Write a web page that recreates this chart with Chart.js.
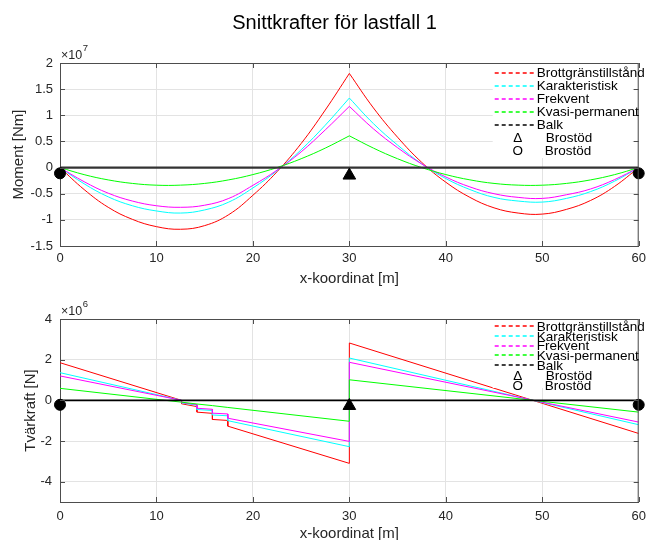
<!DOCTYPE html>
<html>
<head>
<meta charset="utf-8">
<title>Snittkrafter för lastfall 1</title>
<script src="https://cdn.jsdelivr.net/npm/chart.js@4.4.0/dist/chart.umd.min.js"></script>
<style>
    html, body { margin: 0; padding: 0; background: #fff; width: 647px; height: 540px; overflow: hidden; }
    #momentWrap { position: absolute; left: 0; top: 0; width: 647px; height: 290px; }
    #shearWrap { position: absolute; left: 0; top: 290px; width: 647px; height: 260px; }
</style>
</head>
<body>
<div id="momentWrap"><canvas id="momentChart"></canvas></div>
<div id="shearWrap"><canvas id="shearChart"></canvas></div>
<script>
const fontFamily = '"Liberation Sans", Arial, Helvetica, sans-serif';
const axisColor = '#262626';
const frameColor = '#4d4d4d';
const gridColor = '#e3e3e3';

// Legend texts and colours
const seriesNames = ['Brottgränstillstånd', 'Karakteristisk', 'Frekvent', 'Kvasi-permanent'];
const seriesColors = ['#ff0000', '#00ffff', '#ff00ff', '#00ff00'];
const balkName = 'Balk';
const supportSymbols = ['Δ', 'O'];
const supportName = 'Brostöd';

// x ticks
const xTicks = [0, 10, 20, 30, 40, 50, 60];

// Moment [Nm], in units of 10^7 (span 1: 0-30 m, span 2: 30-60 m)
const momentX = [0, 2.5, 5, 7.5, 10, 12.5, 15, 17.5, 20, 22.5, 25, 27.5, 30,
                 32.5, 35, 37.5, 40, 42.5, 45, 47.5, 50, 52.5, 55, 57.5, 60];
const momentBrott = [0, -0.42, -0.76, -0.99, -1.13, -1.18, -1.11, -0.90, -0.53, -0.08, 0.46, 1.10, 1.80,
                     1.14, 0.58, 0.10, -0.28, -0.57, -0.77, -0.87, -0.89, -0.80, -0.63, -0.36, 0];
const momentKarakt = [0, -0.31, -0.56, -0.73, -0.83, -0.87, -0.81, -0.66, -0.39, -0.06, 0.34, 0.81, 1.33,
                      0.84, 0.43, 0.07, -0.21, -0.42, -0.57, -0.64, -0.66, -0.59, -0.46, -0.26, 0];
const momentFrekvent = [0, -0.27, -0.49, -0.64, -0.73, -0.76, -0.72, -0.59, -0.34, -0.05, 0.30, 0.72, 1.17,
                        0.74, 0.38, 0.07, -0.18, -0.37, -0.50, -0.57, -0.59, -0.52, -0.41, -0.23, 0];
const momentKvasi = [0, -0.135, -0.236, -0.303, -0.337, -0.336, -0.303, -0.235, -0.134, 0.0, 0.169, 0.372, 0.607,
                     0.372, 0.169, 0.0, -0.134, -0.235, -0.303, -0.336, -0.337, -0.303, -0.236, -0.135, 0];

// Tvärkraft [N], in units of 10^6
const shearX = [0, 12.6, 12.6, 14.2, 14.2, 15.8, 15.8, 17.4, 17.4, 30, 30, 60];
const shearBrott = [1.85, 0.0, -0.17, -0.31, -0.58, -0.64, -0.94, -0.99, -1.27, -3.1, 2.82, -1.63];
const shearKarakt = [1.36, 0.0, -0.13, -0.24, -0.45, -0.50, -0.72, -0.76, -1.0, -2.28, 2.08, -1.2];
const shearFrekvent = [1.2, 0.0, -0.11, -0.21, -0.39, -0.44, -0.63, -0.67, -0.88, -2.02, 1.87, -1.07];
const shearKvasi = [0.59, -0.09, -0.09, -0.18, -0.18, -0.26, -0.26, -0.35, -0.35, -1.03, 1.01, -0.58];

// Beam and supports
const balkX = [0, 60];
const balkY = [0, 0];
const endSupportX = [0, 60];
const midSupportX = [30];
const momentEndSupportY = [-0.11, -0.11];
const momentMidSupportY = [-0.15];
const shearEndSupportY = [-0.22, -0.22];
const shearMidSupportY = [-0.27];

// index of the mid support in momentX
const midIndex = momentX.indexOf(30);

Chart.defaults.font.family = fontFamily;
Chart.defaults.color = axisColor;

function toPoints(xs, ys) {
    return xs.map((x, i) => ({ x: x, y: ys[i] }));
}

function lineSet(label, points, color, order, width, tension) {
    return {
        label: label,
        data: points,
        borderColor: color,
        backgroundColor: color,
        borderWidth: width || 1,
        pointRadius: 0,
        showLine: true,
        tension: tension || 0,
        order: order
    };
}

// Each span as its own smooth curve so the peak over the support stays sharp
function momentSets(label, ys, color, order) {
    const pts = toPoints(momentX, ys);
    return [
        lineSet(label, pts.slice(0, midIndex + 1), color, order, 1, 0.4),
        lineSet(label, pts.slice(midIndex), color, order, 1, 0.4)
    ];
}

function markerSet(label, xs, ys, style, radius) {
    return {
        label: label,
        data: toPoints(xs, ys),
        pointStyle: style,
        pointRadius: radius,
        pointBorderWidth: 1,
        pointBorderColor: '#000',
        pointBackgroundColor: '#000',
        showLine: false,
        clip: false,
        order: 0
    };
}

// Frame, inward ticks, legend, exponent and title
const decorPlugin = {
    id: 'decor',
    afterDraw(chart, args, opts) {
        const ctx = chart.ctx;
        const a = chart.chartArea;
        const xs = chart.scales.x;
        const ys = chart.scales.y;
        ctx.save();

        // box + inward ticks
        ctx.strokeStyle = frameColor;
        ctx.lineWidth = 1;
        ctx.beginPath();
        ctx.moveTo(a.left, a.top + 0.5);
        ctx.lineTo(a.right - 0.5, a.top + 0.5);
        ctx.lineTo(a.right - 0.5, a.bottom);
        xs.ticks.forEach(t => {
            const px = Math.round(xs.getPixelForValue(t.value)) + 0.5;
            ctx.moveTo(px, a.bottom);
            ctx.lineTo(px, a.bottom - 5);
            ctx.moveTo(px, a.top);
            ctx.lineTo(px, a.top + 5);
        });
        ys.ticks.forEach(t => {
            const py = Math.round(ys.getPixelForValue(t.value)) + 0.5;
            ctx.moveTo(a.left, py);
            ctx.lineTo(a.left + 5, py);
            ctx.moveTo(a.right, py);
            ctx.lineTo(a.right - 5, py);
        });
        ctx.stroke();

        // legend (white background, no box)
        const lg = opts.legend;
        ctx.fillStyle = '#fff';
        ctx.fillRect(a.right - 146, a.top + 1, 140, lg.boxHeight);
        const lineStart = a.right - 144;
        const lineEnd = a.right - 102;
        const names = seriesNames.concat([balkName]);
        const colors = seriesColors.concat(['#000']);
        ctx.font = '13.5px ' + fontFamily;
        ctx.textBaseline = 'middle';
        ctx.lineWidth = 1.6;
        names.forEach((name, i) => {
            const y = a.top + lg.first + i * lg.step;
            ctx.strokeStyle = colors[i];
            ctx.setLineDash([4, 3]);
            ctx.beginPath();
            ctx.moveTo(lineStart, Math.round(y) - 1);
            ctx.lineTo(lineEnd, Math.round(y) - 1);
            ctx.stroke();
            ctx.setLineDash([]);
            ctx.fillStyle = '#000';
            ctx.textAlign = 'left';
            ctx.fillText(name, lineEnd, y);
        });
        supportSymbols.forEach((sym, i) => {
            const y = a.top + lg.first + (names.length + i) * lg.step;
            ctx.fillStyle = '#000';
            ctx.textAlign = 'center';
            ctx.fillText(sym, a.right - 121, y);
            ctx.textAlign = 'left';
            ctx.fillText(supportName, a.right - 93 - i, y);
        });

        // ×10^n
        ctx.fillStyle = axisColor;
        ctx.textAlign = 'left';
        ctx.textBaseline = 'alphabetic';
        ctx.font = '12.5px ' + fontFamily;
        ctx.fillText('×10', a.left + 1, a.top - 4);
        const w = ctx.measureText('×10').width;
        ctx.font = '9.5px ' + fontFamily;
        ctx.fillText(opts.exponent, a.left + 1.5 + w, a.top - 12.5);

        // figure title
        if (opts.title) {
            ctx.fillStyle = '#000';
            ctx.font = '20px ' + fontFamily;
            ctx.textAlign = 'center';
            ctx.textBaseline = 'middle';
            ctx.fillText(opts.title, 334.5, 23);
        }
        ctx.restore();
    }
};

function tickText(v) {
    return String(Math.round(v * 100) / 100);
}

function xScale(padding, titlePadBottom, height) {
    return {
        type: 'linear',
        min: 0,
        max: 60,
        afterBuildTicks: scale => { scale.ticks = xTicks.map(v => ({ value: v })); },
        ticks: { padding: padding, color: axisColor, font: { size: 13 }, maxRotation: 0, callback: tickText },
        grid: { color: gridColor, drawTicks: false },
        border: { color: frameColor },
        title: {
            display: true,
            text: 'x-koordinat [m]',
            color: axisColor,
            font: { size: 15 },
            padding: { top: 0, bottom: titlePadBottom }
        },
        afterFit: scale => {
            scale.height = height;
            scale.paddingLeft = 0;
            scale.paddingRight = 0;
        }
    };
}

function yScale(min, max, step, label, titlePad, tickPad) {
    return {
        type: 'linear',
        min: min,
        max: max,
        ticks: { stepSize: step, includeBounds: false, padding: tickPad, color: axisColor, font: { size: 13 }, callback: tickText },
        grid: { color: gridColor, drawTicks: false },
        border: { color: frameColor },
        title: {
            display: true,
            text: label,
            color: axisColor,
            font: { size: 15 },
            padding: { top: titlePad, bottom: 0 }
        },
        afterFit: scale => { scale.width = 60; }
    };
}

const baseOptions = {
    responsive: true,
    maintainAspectRatio: false,
    animation: false,
    devicePixelRatio: 1,
    events: []
};

// Moment chart
new Chart(document.getElementById('momentChart').getContext('2d'), {
    type: 'scatter',
    data: {
        datasets: [].concat(
            momentSets(seriesNames[0], momentBrott, seriesColors[0], 6),
            momentSets(seriesNames[1], momentKarakt, seriesColors[1], 5),
            momentSets(seriesNames[2], momentFrekvent, seriesColors[2], 4),
            momentSets(seriesNames[3], momentKvasi, seriesColors[3], 3),
            [
                lineSet(balkName, toPoints(balkX, balkY), '#333333', 2, 2.2),
                markerSet(supportName, midSupportX, momentMidSupportY, 'triangle', 7.3),
                markerSet(supportName, endSupportX, momentEndSupportY, 'circle', 5.5)
            ]
        )
    },
    options: Object.assign({}, baseOptions, {
        layout: { padding: { top: 63, right: 8, left: 0, bottom: 0 } },
        scales: {
            x: xScale(5, 2, 44),
            y: yScale(-1.5, 2, 0.5, 'Moment [Nm]', 10, 7)
        },
        plugins: {
            legend: { display: false },
            tooltip: { enabled: false },
            decor: {
                exponent: '7',
                title: 'Snittkrafter för lastfall 1',
                legend: { first: 10.5, step: 13, boxHeight: 94 }
            }
        }
    }),
    plugins: [decorPlugin]
});

// Shear chart
new Chart(document.getElementById('shearChart').getContext('2d'), {
    type: 'scatter',
    data: {
        datasets: [
            lineSet(seriesNames[0], toPoints(shearX, shearBrott), seriesColors[0], 6),
            lineSet(seriesNames[1], toPoints(shearX, shearKarakt), seriesColors[1], 5),
            lineSet(seriesNames[2], toPoints(shearX, shearFrekvent), seriesColors[2], 4),
            lineSet(seriesNames[3], toPoints(shearX, shearKvasi), seriesColors[3], 3),
            lineSet(balkName, toPoints(balkX, balkY), '#000000', 2, 1.6),
            markerSet(supportName, midSupportX, shearMidSupportY, 'triangle', 7.3),
            markerSet(supportName, endSupportX, shearEndSupportY, 'circle', 5.5)
        ]
    },
    options: Object.assign({}, baseOptions, {
        layout: { padding: { top: 29, right: 8, left: 0, bottom: 0 } },
        scales: {
            x: xScale(7, 7, 48),
            y: yScale(-5, 4, 2, 'Tvärkraft [N]', 22, 8)
        },
        plugins: {
            legend: { display: false },
            tooltip: { enabled: false },
            decor: {
                exponent: '6',
                legend: { first: 8, step: 9.8, boxHeight: 68 }
            }
        }
    }),
    plugins: [decorPlugin]
});
</script>
</body>
</html>
